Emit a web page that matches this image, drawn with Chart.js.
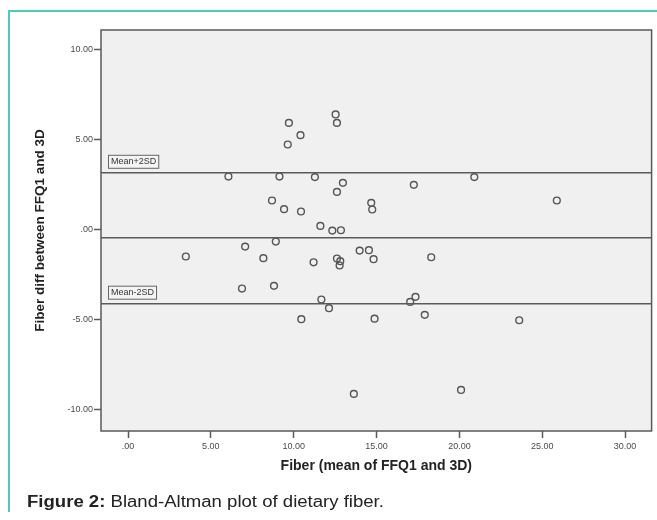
<!DOCTYPE html>
<html>
<head>
<meta charset="utf-8">
<script src="https://cdn.jsdelivr.net/npm/chart.js@4"></script>
<style>
  html, body { margin: 0; padding: 0; background: #fff; }
  #wrap { position: relative; width: 657px; height: 520px; overflow: hidden; }
  #frame { position: absolute; left: 8px; top: 10px; width: 660px; height: 500px;
           border-left: 2px solid #55c9b9; border-top: 2px solid #55c9b9; }
  #plot { position: absolute; left: 0; top: 0; }
  #caption { position: absolute; left: 27px; top: 493px; font-family: "Liberation Sans", Arial, sans-serif;
             font-size: 16px; line-height: 18px; color: #222; white-space: nowrap;
             transform: scaleX(1.16); transform-origin: left top; }
</style>
</head>
<body>
<div id="wrap">
  <div id="frame"></div>
  <canvas id="plot" width="657" height="520"></canvas>
  <div id="caption"><b>Figure 2:</b> Bland-Altman plot of dietary fiber.</div>
</div>
<script>
// mean of FFQ1 and 3D (x) and difference (y)
const fiberMean = [
  9.71, 10.41, 9.64, 12.53, 12.61, 6.06, 9.14, 11.28, 12.97, 12.61,
  8.69, 9.42, 10.44, 11.61, 12.33, 12.85, 8.92, 7.07, 3.49, 8.17,
  11.20, 12.61, 12.81, 12.77, 6.88, 8.81, 11.67, 12.13, 10.46, 17.25,
  20.90, 25.88, 14.68, 14.74, 13.98, 14.54, 14.82, 18.30, 17.35, 17.03,
  17.91, 14.88, 23.61, 13.63, 20.10
];
const fiberDiff = [
  5.94, 5.26, 4.74, 6.41, 5.94, 2.96, 2.96, 2.93, 2.61, 2.11,
  1.63, 1.15, 1.02, 0.22, -0.04, -0.02, -0.65, -0.93, -1.48, -1.57,
  -1.80, -1.59, -1.74, -1.98, -3.26, -3.11, -3.87, -4.35, -4.96, 2.50,
  2.93, 1.63, 1.50, 1.13, -1.15, -1.13, -1.63, -1.52, -3.72, -4.00,
  -4.72, -4.93, -5.02, -9.11, -8.89
];

// reference lines
const meanDiff = -0.44;
const upperLimit = 3.17;
const lowerLimit = -4.10;
const refLabels = ['Mean+2SD', 'Mean-2SD'];

// axes
const xMin = -1.63, xMax = 31.6;
const yMin = -11.17, yMax = 11.1;
const xTicks = [0, 5, 10, 15, 20, 25, 30];
const xTickLabels = ['.00', '5.00', '10.00', '15.00', '20.00', '25.00', '30.00'];
const yTicks = [-10, -5, 0, 5, 10];
const yTickLabels = ['-10.00', '-5.00', '.00', '5.00', '10.00'];

const points = fiberMean.map((x, i) => ({ x: x, y: fiberDiff[i] }));
const hLine = (y) => [{ x: xMin, y: y }, { x: xMax, y: y }];

const lineColor = '#5a5a5a';
const fontFam = '"Liberation Sans", Arial, sans-serif';

// plot background, frame and the two SD labels
const spssFrame = {
  id: 'spssFrame',
  beforeDraw(chart) {
    const { ctx, chartArea: a } = chart;
    ctx.save();
    ctx.fillStyle = '#f0f0f0';
    ctx.fillRect(a.left, a.top, a.right - a.left, a.bottom - a.top);
    ctx.restore();
  },
  afterDraw(chart) {
    const { ctx, chartArea: a, scales } = chart;
    ctx.save();
    ctx.strokeStyle = lineColor;
    ctx.lineWidth = 1.5;
    ctx.strokeRect(a.left, a.top, a.right - a.left, a.bottom - a.top);

    ctx.font = '9px ' + fontFam;
    ctx.textBaseline = 'middle';
    [upperLimit, lowerLimit].forEach((v, i) => {
      const y = scales.y.getPixelForValue(v);
      const x0 = a.left + 7;
      const w = ctx.measureText(refLabels[i]).width + 5;
      ctx.fillStyle = '#f4f4f4';
      ctx.fillRect(x0, y - 18, w, 13);
      ctx.strokeStyle = '#666';
      ctx.lineWidth = 1;
      ctx.strokeRect(x0 + 0.5, y - 17.5, w, 13);
      ctx.fillStyle = '#333';
      ctx.fillText(refLabels[i], x0 + 3, y - 11);
    });
    ctx.restore();
  }
};

const refStyle = { type: 'line', borderColor: lineColor, borderWidth: 1.5, pointRadius: 0, fill: false };

new Chart(document.getElementById('plot'), {
  type: 'scatter',
  data: {
    datasets: [
      Object.assign({ data: hLine(upperLimit) }, refStyle),
      Object.assign({ data: hLine(meanDiff) }, refStyle),
      Object.assign({ data: hLine(lowerLimit) }, refStyle),
      {
        data: points,
        pointRadius: 3.4,
        pointBorderWidth: 1.4,
        pointBorderColor: '#555',
        pointBackgroundColor: 'rgba(0,0,0,0)'
      }
    ]
  },
  options: {
    responsive: false,
    animation: false,
    events: [],
    layout: { padding: { top: 30, right: 4, left: 0, bottom: 0 } },
    plugins: { legend: { display: false }, tooltip: { enabled: false } },
    scales: {
      x: {
        type: 'linear',
        min: xMin,
        max: xMax,
        afterFit: (s) => { s.height = 89; },
        afterBuildTicks: (s) => { s.ticks = xTicks.map(v => ({ value: v })); },
        grid: { drawOnChartArea: false, drawTicks: true, tickLength: 7, tickColor: lineColor, tickWidth: 1.5 },
        border: { display: false },
        ticks: {
          padding: 3,
          color: '#4a4a4a',
          font: { family: fontFam, size: 9 },
          callback: (v) => xTickLabels[xTicks.indexOf(v)]
        },
        title: {
          display: true,
          text: 'Fiber (mean of FFQ1 and 3D)',
          color: '#222',
          font: { family: fontFam, size: 14, weight: 'bold' },
          padding: { top: 0, bottom: 45 }
        }
      },
      y: {
        type: 'linear',
        min: yMin,
        max: yMax,
        afterFit: (s) => { s.width = 101; },
        afterBuildTicks: (s) => { s.ticks = yTicks.map(v => ({ value: v })); },
        grid: { drawOnChartArea: false, drawTicks: true, tickLength: 7, tickColor: lineColor, tickWidth: 1.5 },
        border: { display: false },
        ticks: {
          padding: 1,
          color: '#4a4a4a',
          font: { family: fontFam, size: 9 },
          callback: (v) => yTickLabels[yTicks.indexOf(v)]
        },
        title: {
          display: true,
          text: 'Fiber diff between FFQ1 and 3D',
          color: '#222',
          font: { family: fontFam, size: 13.5, weight: 'bold' },
          padding: { top: 32, bottom: 0 }
        }
      }
    }
  },
  plugins: [spssFrame]
});
</script>
</body>
</html>
